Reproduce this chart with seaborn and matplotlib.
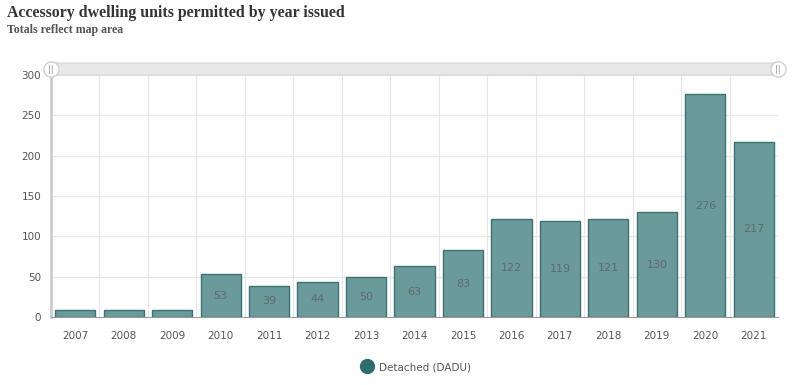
import matplotlib
matplotlib.use("Agg")
import matplotlib.pyplot as plt
import seaborn as sns
import pandas as pd
from matplotlib.patches import FancyBboxPatch
from matplotlib.lines import Line2D

# Chart data
years = ["2007", "2008", "2009", "2010", "2011", "2012", "2013", "2014",
         "2015", "2016", "2017", "2018", "2019", "2020", "2021"]
units = [9, 9, 9, 53, 39, 44, 50, 63, 83, 122, 119, 121, 130, 276, 217]
series_name = "Detached (DADU)"

df = pd.DataFrame({"year": years, "units": units})

sns.set_style("white")
plt.rcParams['font.family'] = ['DejaVu Sans']

fig = plt.figure(figsize=(8, 3.85), dpi=100)
ax = fig.add_axes([51 / 800, 1 - 317 / 385, 727 / 800, 242 / 385])

sns.barplot(data=df, x="year", y="units", color="#6b9a9b", width=0.83,
            edgecolor="#3a7273", linewidth=1.0, saturation=1, ax=ax)

ax.set_ylim(0, 300)
ax.set_xlim(-0.5, len(years) - 0.5)
ax.set_yticks(range(0, 301, 50))
ax.set_xlabel("")
ax.set_ylabel("")

# grid: horizontal at ticks, vertical between categories
for yv in range(50, 301, 50):
    ax.axhline(yv, color="#e6e6e6", linewidth=0.8, zorder=0)
for i in range(len(years)):
    ax.axvline(i + 0.5, color="#e6e6e6", linewidth=0.8, zorder=0)

for s in ["top", "right"]:
    ax.spines[s].set_visible(False)
ax.spines["left"].set_color("#cccccc")
ax.spines["left"].set_linewidth(2)
ax.spines["bottom"].set_color("#999999")
ax.spines["bottom"].set_linewidth(0.8)

ax.tick_params(axis="y", colors="#555555", labelsize=7.5, length=4,
               width=0.6, direction="out", pad=3)
ax.tick_params(axis="y", color="#aaaaaa")
ax.tick_params(axis="x", colors="#555555", labelsize=7.5, length=4,
               width=0.6, direction="out", pad=6)
ax.tick_params(axis="x", color="#aaaaaa")

# value labels inside bars
for i, v in enumerate(units):
    if v >= 30:
        ax.text(i, v / 2, str(v), ha="center", va="center",
                fontsize=8, color="#5f6a6a", zorder=5)

# scrollbar decoration above plot
sb = FancyBboxPatch((51 / 800, 1 - 75 / 385), 727 / 800, 12 / 385,
                    boxstyle="round,pad=0,rounding_size=0.005",
                    transform=fig.transFigure, facecolor="#e8e8e8",
                    edgecolor="#d6d6d6", linewidth=0.8)
fig.patches.append(sb)
for hx in (51, 778):
    fig.add_artist(Line2D([hx / 800], [1 - 69 / 385], marker="o",
                          markersize=11, markerfacecolor="white",
                          markeredgecolor="#d0d0d0", linestyle="none",
                          transform=fig.transFigure))
    fig.text(hx / 800, 1 - 69 / 385, "||", ha="center", va="center",
             fontsize=6, color="#999999")

# titles
fig.text(7 / 800, 1 - 13 / 385, "Accessory dwelling units permitted by year issued",
         family="Liberation Serif", fontweight="bold", fontsize=11.4,
         color="#333333", ha="left", va="center")
fig.text(7 / 800, 1 - 30 / 385, "Totals reflect map area",
         family="Liberation Serif", fontweight="bold", fontsize=8.6,
         color="#555555", ha="left", va="center")

# legend
handle = Line2D([], [], marker="o", linestyle="none", markersize=10,
                markerfacecolor="#2e6d6e", markeredgecolor="#2e6d6e")
fig.legend([handle], [series_name], loc="center", frameon=False,
           bbox_to_anchor=(414 / 800, 1 - 367 / 385), fontsize=7.5,
           labelcolor="#555555", handletextpad=0.2)

fig.savefig("out.png", dpi=100)
